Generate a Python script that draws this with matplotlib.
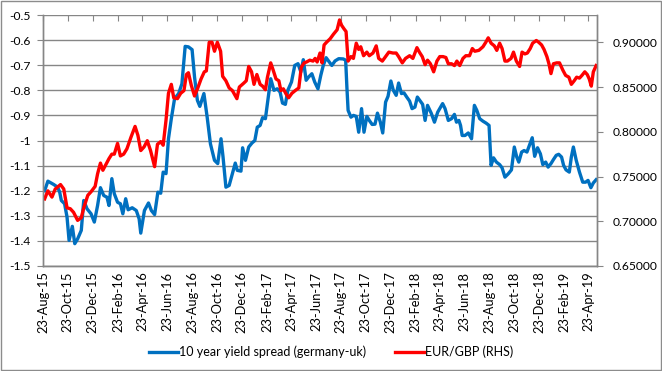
import numpy as np
import pandas as pd
import matplotlib
matplotlib.use("Agg")
import matplotlib.pyplot as plt
import matplotlib.dates as mdates
from matplotlib.ticker import FixedLocator, FormatStrFormatter, FuncFormatter

plt.rcParams['font.family'] = ['Lato', 'DejaVu Sans']

start = pd.Timestamp('2015-08-23')

# 10 year yield spread (germany-uk), days after 23-Aug-15
spread_days = [4, 12, 26, 36, 41, 45, 53, 59, 64, 72, 78, 85, 94, 100, 108, 118, 126, 134,
               141, 149, 157, 162, 169, 175, 183, 190, 196, 203, 209, 219, 229, 236, 240,
               249, 259, 266, 274, 282, 289, 295, 302, 308, 315, 323, 333, 341, 349, 357,
               366, 372, 379, 385, 395, 403, 411, 421, 429, 437, 442, 449, 457, 465, 472,
               477, 486, 490, 497, 505, 513, 520, 526, 533, 539, 546, 552, 559, 567, 575,
               582, 588, 595, 601, 610, 618, 626, 633, 639, 646, 652, 660, 667, 675, 682,
               688, 695, 709, 717, 726, 737, 743, 746, 749, 756, 762, 769, 775, 782, 788,
               795, 801, 808, 815, 821, 828, 834, 841, 847, 854, 860, 867, 873, 880, 886,
               893, 900, 906, 913, 919, 926, 932, 938, 944, 953, 961, 969, 981, 987, 995,
               1003, 1010, 1015, 1021, 1025, 1029, 1036, 1044, 1052, 1059, 1065, 1072, 1080,
               1088, 1095, 1100, 1106, 1113, 1121, 1127, 1134, 1142, 1150, 1157, 1163, 1168,
               1175, 1181, 1188, 1194, 1201, 1207, 1214, 1221, 1227, 1234, 1240, 1247, 1253,
               1260, 1266, 1273, 1278, 1284, 1292, 1297, 1302, 1309, 1317, 1325, 1332, 1338,
               1345, 1351, 1358]
spread = [-1.200, -1.162, -1.175, -1.186, -1.206, -1.239, -1.252, -1.305, -1.398, -1.342,
          -1.411, -1.392, -1.358, -1.239, -1.272, -1.292, -1.325, -1.259, -1.188, -1.219,
          -1.226, -1.259, -1.152, -1.212, -1.246, -1.252, -1.292, -1.232, -1.276, -1.268,
          -1.279, -1.312, -1.369, -1.279, -1.249, -1.279, -1.295, -1.206, -1.210, -1.126,
          -1.132, -0.993, -0.913, -0.833, -0.813, -0.774, -0.625, -0.627, -0.638, -0.747,
          -0.840, -0.864, -0.813, -0.907, -1.013, -1.079, -1.092, -0.993, -1.066, -1.186,
          -1.179, -1.132, -1.090, -1.119, -1.122, -1.029, -1.079, -1.026, -1.010, -1.000,
          -0.947, -0.940, -0.909, -0.913, -0.840, -0.754, -0.800, -0.794, -0.807, -0.851,
          -0.856, -0.800, -0.767, -0.701, -0.694, -0.727, -0.678, -0.760, -0.747, -0.734,
          -0.767, -0.794, -0.740, -0.701, -0.670, -0.701, -0.683, -0.674, -0.675, -0.680,
          -0.787, -0.880, -0.907, -0.900, -0.904, -0.967, -0.873, -0.967, -0.904, -0.920,
          -0.936, -0.935, -0.891, -0.926, -0.970, -0.847, -0.824, -0.763, -0.800, -0.820,
          -0.771, -0.813, -0.810, -0.827, -0.843, -0.873, -0.867, -0.827, -0.843, -0.856,
          -0.920, -0.860, -0.891, -0.927, -0.887, -0.853, -0.873, -0.920, -0.913, -0.896,
          -0.927, -0.920, -0.940, -0.980, -0.980, -0.970, -0.993, -0.860, -0.880, -0.913,
          -0.923, -0.931, -0.940, -1.099, -1.069, -1.086, -1.096, -1.109, -1.146, -1.133,
          -1.117, -1.026, -1.066, -1.086, -1.046, -1.040, -1.046, -1.020, -0.989, -1.063,
          -1.029, -1.053, -1.096, -1.086, -1.106, -1.092, -1.076, -1.059, -1.055, -1.066,
          -1.099, -1.117, -1.126, -1.066, -1.026, -1.079, -1.126, -1.166, -1.166, -1.159,
          -1.188, -1.169, -1.156]

# EUR/GBP (RHS), days after 23-Aug-15
fx_days = [4, 12, 22, 30, 43, 51, 59, 67, 75, 85, 94, 100, 110, 118, 128, 134, 141, 147,
           154, 162, 169, 175, 183, 190, 198, 206, 216, 226, 233, 240, 248, 256, 264, 274,
           281, 289, 295, 302, 308, 315, 321, 330, 338, 346, 352, 357, 364, 372, 380, 388,
           396, 401, 408, 415, 421, 428, 436, 441, 449, 457, 465, 476, 482, 492, 499, 505,
           512, 518, 525, 533, 539, 546, 551, 559, 565, 572, 579, 584, 590, 597, 603, 611,
           619, 628, 634, 641, 647, 655, 663, 668, 673, 680, 685, 690, 696, 705, 713, 722,
           728, 733, 739, 744, 749, 756, 762, 769, 775, 780, 787, 795, 801, 810, 818, 824,
           833, 841, 849, 859, 867, 873, 882, 890, 900, 908, 918, 924, 931, 938, 944, 951,
           959, 967, 974, 982, 989, 995, 1003, 1010, 1016, 1023, 1031, 1038, 1047, 1054,
           1060, 1070, 1080, 1087, 1093, 1100, 1108, 1114, 1121, 1127, 1134, 1140, 1149,
           1155, 1162, 1170, 1176, 1183, 1189, 1196, 1202, 1211, 1217, 1224, 1230, 1237,
           1242, 1247, 1253, 1261, 1268, 1276, 1283, 1291, 1297, 1304, 1310, 1317, 1323,
           1330, 1336, 1341, 1346, 1351, 1358]
fx = [0.725, 0.734, 0.727, 0.736, 0.741, 0.736, 0.715, 0.714, 0.710, 0.701, 0.704, 0.715,
      0.729, 0.733, 0.739, 0.753, 0.765, 0.757, 0.763, 0.770, 0.775, 0.775, 0.787, 0.773,
      0.775, 0.781, 0.794, 0.806, 0.796, 0.779, 0.783, 0.790, 0.779, 0.761, 0.786, 0.789,
      0.785, 0.813, 0.843, 0.853, 0.838, 0.837, 0.843, 0.846, 0.864, 0.866, 0.852, 0.840,
      0.849, 0.859, 0.867, 0.868, 0.900, 0.900, 0.890, 0.900, 0.890, 0.862, 0.857, 0.849,
      0.846, 0.837, 0.850, 0.854, 0.857, 0.873, 0.867, 0.853, 0.864, 0.853, 0.851, 0.847,
      0.861, 0.877, 0.869, 0.859, 0.857, 0.846, 0.848, 0.842, 0.838, 0.843, 0.846, 0.849,
      0.872, 0.877, 0.878, 0.880, 0.879, 0.882, 0.878, 0.888, 0.877, 0.897, 0.900, 0.904,
      0.909, 0.914, 0.925, 0.919, 0.915, 0.912, 0.879, 0.884, 0.882, 0.899, 0.892, 0.895,
      0.885, 0.889, 0.885, 0.888, 0.896, 0.882, 0.879, 0.884, 0.889, 0.888, 0.888, 0.884,
      0.877, 0.882, 0.885, 0.882, 0.894, 0.889, 0.884, 0.875, 0.880, 0.876, 0.867, 0.879,
      0.884, 0.884, 0.883, 0.876, 0.876, 0.874, 0.879, 0.874, 0.882, 0.885, 0.885, 0.893,
      0.890, 0.891, 0.895, 0.900, 0.905, 0.899, 0.896, 0.891, 0.899, 0.893, 0.879, 0.879,
      0.882, 0.889, 0.879, 0.873, 0.889, 0.887, 0.888, 0.893, 0.899, 0.902, 0.900, 0.897,
      0.892, 0.884, 0.876, 0.865, 0.876, 0.877, 0.877, 0.869, 0.863, 0.861, 0.853, 0.857,
      0.861, 0.860, 0.863, 0.867, 0.864, 0.859, 0.851, 0.867, 0.874]

left_ticks = [-1.5, -1.4, -1.3, -1.2, -1.1, -1.0, -0.9, -0.8, -0.7, -0.6, -0.5]
right_ticks = [0.65, 0.70, 0.75, 0.80, 0.85, 0.90]

spread_dates = start + pd.to_timedelta(spread_days, unit='D')
fx_dates = start + pd.to_timedelta(fx_days, unit='D')
date_ticks = [start + pd.DateOffset(months=2 * i) for i in range(23)]

grey = '#868686'
blue = '#0070C0'
red = '#FF0000'

fig = plt.figure(figsize=(6.62, 3.71), dpi=100)
ax = fig.add_axes([43 / 662, 1 - 266 / 371, (597 - 43) / 662, (266 - 15) / 371])
ax2 = ax.twinx()

l1, = ax.plot(spread_dates, spread, color=blue, lw=2.4, solid_joinstyle='round',
              label='10 year yield spread (germany-uk)')
l2, = ax2.plot(fx_dates, fx, color=red, lw=2.4, solid_joinstyle='round',
               label='EUR/GBP (RHS)')

ax.set_xlim(start, start + pd.Timedelta(days=1360))
ax.set_ylim(-1.5, -0.5)
ax2.set_ylim(0.65, 0.9305)

ax.yaxis.set_major_locator(FixedLocator(left_ticks))
ax.yaxis.set_major_formatter(FuncFormatter(lambda v, p: '%g' % round(v, 2)))
ax2.yaxis.set_major_locator(FixedLocator(right_ticks))
ax2.yaxis.set_major_formatter(FormatStrFormatter('%.5f'))

ax.xaxis.set_major_locator(FixedLocator(mdates.date2num(date_ticks)))
ax.xaxis.set_major_formatter(mdates.DateFormatter('%d-%b-%y'))

ax.grid(True, axis='y', color=grey, lw=1.0)
ax.set_axisbelow(True)

for a in (ax, ax2):
    for s in a.spines.values():
        s.set_color(grey)
        s.set_linewidth(1.0)
    a.spines['top'].set_visible(False)

ax.tick_params(axis='x', top=True, bottom=False, direction='in', length=4, color=grey,
               labelbottom=True, labeltop=False, labelrotation=90, labelsize=9.3, pad=4)
ax.tick_params(axis='y', direction='out', length=4, color=grey, labelsize=8.7, pad=5)
ax2.tick_params(axis='y', direction='out', length=4, color=grey, labelsize=8.7, pad=7)

fig.legend(handles=[l1, l2], loc='center', bbox_to_anchor=(0.5, 1 - 352 / 371),
           ncol=2, frameon=False, fontsize=9.0, handlelength=2.3, columnspacing=2.3,
           handletextpad=0.1)

fig.patches.append(plt.Rectangle((0.001, 0.002), 0.997, 0.995, transform=fig.transFigure,
                                 fill=False, edgecolor='#8c8c8c', lw=1.0))

fig.savefig('out.png', dpi=100)
